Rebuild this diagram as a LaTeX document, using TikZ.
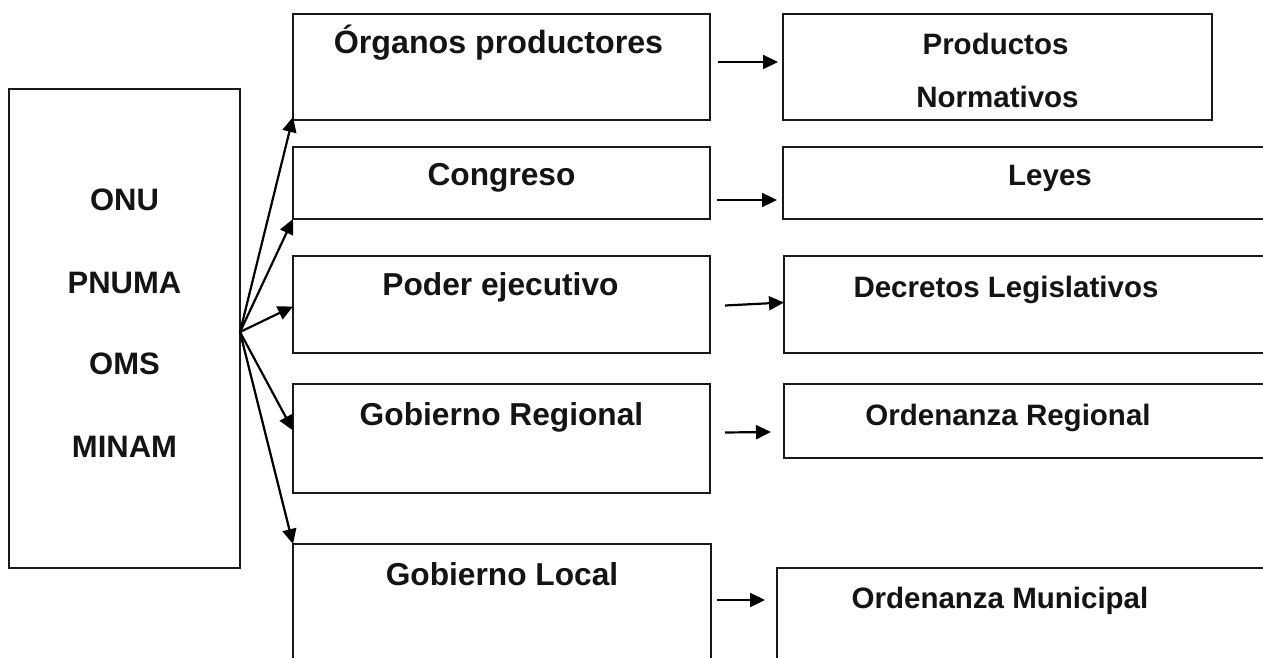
\documentclass[tikz,border=0pt]{standalone}
\usepackage{fontspec}
\setmainfont{Liberation Sans}
\usetikzlibrary{arrows.meta,calc}
\begin{document}
\begin{tikzpicture}[x=1pt,y=-1pt,
  box/.style={draw=black!90, line width=2pt, anchor=north west, inner sep=0pt, outer sep=0pt},
  lbl/.style={anchor=base, inner sep=0pt, font=\fontsize{29.5}{35}\selectfont\bfseries, text=black!92},
  lblm/.style={lbl, font=\fontsize{31.7}{36}\selectfont\bfseries},
  lbll/.style={lbl, font=\fontsize{31}{36}\selectfont\bfseries},
  arr/.style={-{Triangle[length=15pt,width=14pt]}, line width=2.2pt}]
\useasboundingbox (0,0) rectangle (1263,658);
\clip (0,0) rectangle (1263,658);
\fill[white] (0,0) rectangle (1263,658);
% left box
\node[box, minimum width=231pt, minimum height=479pt] (L) at (9,89) {};
\node[lbll] (tONU) at ($(L.north)+(0,121)$) {ONU};
\node[lbll] (tPNUMA) at ($(L.north)+(0,204)$) {PNUMA};
\node[lbll] (tOMS) at ($(L.north)+(0,285)$) {OMS};
\node[lbll] (tMINAM) at ($(L.north)+(0,368)$) {MINAM};
% middle boxes
\node[box, minimum width=417pt, minimum height=106pt] (M1) at (293,14) {};
\node[box, minimum width=417pt, minimum height=72pt] (M2) at (293,147) {};
\node[box, minimum width=417pt, minimum height=97pt] (M3) at (293,256) {};
\node[box, minimum width=417pt, minimum height=109pt] (M4) at (293,384) {};
\node[box, minimum width=418pt, minimum height=150pt] (M5) at (293,544) {};
\node[lblm, font=\fontsize{32.2}{36}\selectfont\bfseries] (t1) at ($(M1.north)+(-3,40)$) {Órganos productores};
\node[lblm] (t2) at ($(M2.north)+(0,38)$) {Congreso};
\node[lblm] (t3) at ($(M3.north)+(-1,39)$) {Poder ejecutivo};
\node[lblm] (t4) at ($(M4.north)+(0,41)$) {Gobierno Regional};
\node[lblm] (t5) at ($(M5.north)+(0,41)$) {Gobierno Local};
% right boxes
\node[box, minimum width=429pt, minimum height=106pt] (R1) at (783,14) {};
\node[box, minimum width=520pt, minimum height=72pt] (R2) at (783,147) {};
\node[box, minimum width=520pt, minimum height=97pt] (R3) at (784,256) {};
\node[box, minimum width=520pt, minimum height=74pt] (R4) at (784,384) {};
\node[box, minimum width=520pt, minimum height=150pt] (R5) at (777,568) {};
\node[lbl] (r1a) at ($(R1.north)+(-2,41)$) {Productos};
\node[lbl] (r1b) at ($(R1.north)+(0,94)$) {Normativos};
\node[lbl] (r2) at ($(R2.north west)+(267,38)$) {Leyes};
\node[lbl] (r3) at ($(R3.north west)+(222,41)$) {Decretos Legislativos};
\node[lbl] (r4) at ($(R4.north west)+(224,41)$) {Ordenanza Regional};
\node[lbl] (r5) at ($(R5.north west)+(223,40)$) {Ordenanza Municipal};
% fan arrows
\coordinate (fan) at ($(L.east)+(0,3.5)$);
\draw[arr] (fan) -- ($(M1.south west)+(0,-3)$);
\draw[arr] (fan) -- (M2.south west);
\draw[arr] (fan) -- ($(M3.west)+(0,2)$);
\draw[arr] (fan) -- ($(M4.west)+(0,-8)$);
\draw[arr] (fan) -- (M5.north west);
% horizontal arrows
\draw[arr] ($(M1.east)+(8,-5)$) -- ($(R1.west)+(-5,-5)$);
\draw[arr] ($(M2.east)+(7,17)$) -- ($(R2.west)+(-6,17)$);
\draw[arr] ($(M3.east)+(15,1)$) -- ($(R3.west)+(0,-2)$);
\draw[arr] ($(M4.east)+(15,-6)$) -- ($(R4.west)+(-13,11)$);
\draw[arr] ($(M5.east)+(6,-19)$) -- ($(R5.west)+(-12,-43)$);
\end{tikzpicture}
\end{document}
